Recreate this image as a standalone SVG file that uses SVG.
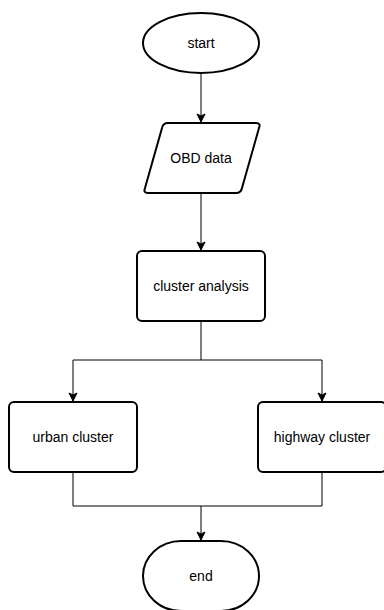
<svg xmlns="http://www.w3.org/2000/svg" width="384" height="610" viewBox="0 0 384 610">
<defs>
<marker id="arr" markerWidth="10" markerHeight="10" viewBox="0 0 10 10" refX="9" refY="5" orient="auto" markerUnits="userSpaceOnUse">
<path d="M1,1 L9,5 L1,9 L3,5 Z" fill="#000" stroke="#000" stroke-width="1"/>
</marker>
<style>
.shape{fill:#fff;stroke:#000;stroke-width:2}
.conn{fill:none;stroke:#000;stroke-width:1}
.lbl{font-family:"Liberation Sans",Arial,sans-serif;font-size:14px;fill:#000;text-anchor:middle;dominant-baseline:central}
</style>
</defs>
<g id="connectors">
<path class="conn" d="M201,73 V122" marker-end="url(#arr)"/>
<path class="conn" d="M201,193 V250" marker-end="url(#arr)"/>
<path class="conn" d="M201,321 V360 H73 V401" marker-end="url(#arr)"/>
<path class="conn" d="M201,360 H322 V401" marker-end="url(#arr)"/>
<path class="conn" d="M73,472 V506 H322 V472"/>
<path class="conn" d="M201,506 V540" marker-end="url(#arr)"/>
</g>
<g id="start">
<ellipse class="shape" cx="201" cy="43" rx="58" ry="30"/>
<text class="lbl" x="201" y="43">start</text>
</g>
<g id="obd">
<path class="shape" d="M168,123 H256 Q261,123 259,128 L242,188 Q241,193 236,193 H148 Q143,193 145,188 L162,128 Q163,123 168,123 Z"/>
<text class="lbl" x="201" y="158">OBD data</text>
</g>
<g id="analysis">
<rect class="shape" x="137" y="251" width="128" height="70" rx="5"/>
<text class="lbl" x="201" y="286">cluster analysis</text>
</g>
<g id="urban">
<rect class="shape" x="9" y="402" width="128" height="70" rx="5"/>
<text class="lbl" x="73" y="437">urban cluster</text>
</g>
<g id="highway">
<rect class="shape" x="258" y="402" width="128" height="70" rx="5"/>
<text class="lbl" x="322" y="437">highway cluster</text>
</g>
<g id="end">
<rect class="shape" x="143" y="541" width="116" height="70" rx="38" ry="35"/>
<text class="lbl" x="201" y="576">end</text>
</g>
</svg>
